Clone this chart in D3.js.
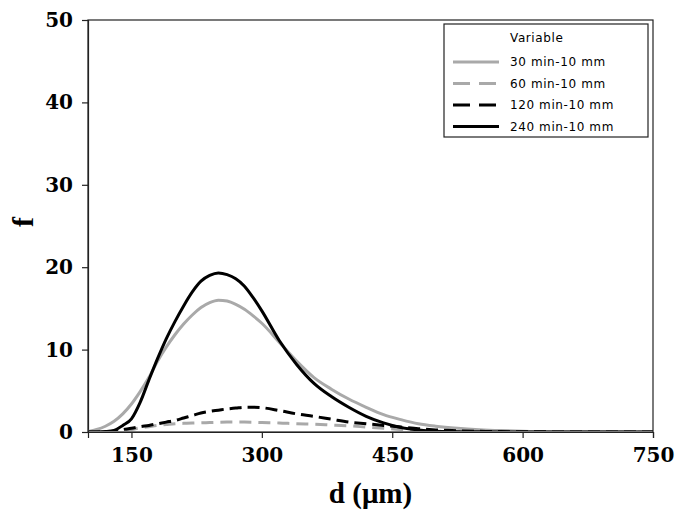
<!DOCTYPE html>
<html>
<head>
<meta charset="utf-8">
<script src="https://cdn.jsdelivr.net/npm/d3@7"></script>
<style>
  body { margin: 0; background: #fff; }
  svg { display: block; }
</style>
</head>
<body>
<div id="chart"></div>
<script>
// particle size grid (µm) shared by all four curves
var sizes = [100,110,120,130,140,150,160,170,180,190,200,210,220,230,240,250,260,270,280,290,300,320,340,360,380,400,420,440,460,480,500,525,550,575,600,650,700,750];

var f30 = [0.05,0.3,0.7,1.3,2.2,3.4,4.9,6.6,8.6,10.3,11.8,13.1,14.2,15.1,15.7,16.0,15.9,15.5,14.9,14.1,13.2,10.9,8.6,6.6,5.2,4.0,3.0,2.1,1.5,1.0,0.7,0.45,0.28,0.17,0.1,0.04,0.02,0];
var f60 = [0,0,0,0,0.1,0.3,0.5,0.65,0.8,0.9,1.0,1.05,1.1,1.12,1.15,1.18,1.2,1.2,1.2,1.18,1.15,1.1,1.0,0.95,0.85,0.75,0.6,0.45,0.3,0.2,0.1,0.07,0.05,0.03,0.02,0,0,0];
var f120 = [0,0,0,0.1,0.3,0.45,0.65,0.8,1.0,1.2,1.4,1.7,2.0,2.3,2.5,2.65,2.8,2.9,3.0,3.0,2.95,2.6,2.2,1.9,1.55,1.2,1.0,0.8,0.6,0.4,0.25,0.15,0.08,0.05,0.03,0.01,0,0];
var f240 = [0,0,0.05,0.2,0.8,1.6,3.6,6.3,8.9,11.3,13.4,15.3,17.0,18.3,19.0,19.3,19.1,18.6,17.7,16.3,14.7,11.1,8.2,5.9,4.3,3.0,1.9,1.1,0.55,0.25,0.1,0.04,0.02,0.01,0,0,0,0];

var seriesNames = ["30 min-10 mm", "60 min-10 mm", "120 min-10 mm", "240 min-10 mm"];
var seriesValues = [f30, f60, f120, f240];
var seriesColors = ["#a9a9a9", "#a9a9a9", "#000000", "#000000"];
var seriesDash = [null, "12,7", "12,6", null];

var xTicks = [150, 300, 450, 600, 750];
var yTicks = [0, 10, 20, 30, 40, 50];

var W = 678, H = 521;
var margin = {left: 88, top: 20, right: 25, bottom: 89};
var innerW = W - margin.left - margin.right;
var innerH = H - margin.top - margin.bottom;

var svg = d3.select("#chart").append("svg")
    .attr("width", W)
    .attr("height", H);

var g = svg.append("g")
    .attr("transform", "translate(" + margin.left + "," + margin.top + ")");

var x = d3.scaleLinear().domain([100, 750]).range([0, innerW]);
var y = d3.scaleLinear().domain([0, 50]).range([innerH, 0]);

g.append("clipPath").attr("id", "clip")
    .append("rect")
    .attr("x", 0).attr("y", -2)
    .attr("width", innerW).attr("height", innerH + 1);

// frame
g.append("rect")
    .attr("x", 0).attr("y", 0)
    .attr("width", innerW).attr("height", innerH)
    .attr("fill", "none")
    .attr("stroke", "#222")
    .attr("stroke-width", 1.2);

// axes
var xAxis = g.append("g")
    .attr("transform", "translate(0," + innerH + ")")
    .call(d3.axisBottom(x).tickValues(xTicks).tickSize(6).tickPadding(10));
var yAxis = g.append("g")
    .call(d3.axisLeft(y).tickValues(yTicks).tickSize(6).tickPadding(9));

[xAxis, yAxis].forEach(function (a) {
    a.select(".domain").attr("stroke", "#222").attr("stroke-width", 1.2);
    a.selectAll(".tick line").attr("stroke", "#222").attr("stroke-width", 1.2);
    a.selectAll(".tick text")
        .attr("fill", "#000")
        .style("font-family", "'DejaVu Serif', serif")
        .style("font-weight", "bold")
        .style("font-size", "20px");
});

// curves
var line = d3.line()
    .x(function (d) { return x(d[0]); })
    .y(function (d) { return y(d[1]); })
    .curve(d3.curveMonotoneX);

var curves = g.append("g").attr("clip-path", "url(#clip)");
seriesValues.forEach(function (vals, i) {
    var pts = sizes.map(function (s, j) { return [s, vals[j]]; });
    curves.append("path")
        .datum(pts)
        .attr("d", line)
        .attr("fill", "none")
        .attr("stroke", seriesColors[i])
        .attr("stroke-width", 3)
        .attr("stroke-dasharray", seriesDash[i]);
});

// axis titles
svg.append("text")
    .attr("x", margin.left + innerW / 2)
    .attr("y", 503)
    .attr("text-anchor", "middle")
    .style("font-family", "'Liberation Serif', serif")
    .style("font-weight", "bold")
    .style("font-size", "29px")
    .text("d (μm)");

svg.append("text")
    .attr("transform", "translate(33,222) rotate(-90)")
    .attr("text-anchor", "middle")
    .style("font-family", "'Liberation Serif', serif")
    .style("font-weight", "bold")
    .style("font-size", "30px")
    .text("f");

// legend
var lg = svg.append("g").attr("transform", "translate(444,24)");
lg.append("rect")
    .attr("width", 204).attr("height", 113)
    .attr("fill", "#fff")
    .attr("stroke", "#222")
    .attr("stroke-width", 1.2);
lg.append("text")
    .attr("x", 66).attr("y", 18)
    .style("font-family", "'DejaVu Sans', sans-serif")
    .style("font-size", "12px")
    .style("letter-spacing", "0.6px")
    .text("Variable");
seriesNames.forEach(function (name, i) {
    var yy = 38 + i * 21.5;
    lg.append("line")
        .attr("x1", 9).attr("x2", 55)
        .attr("y1", yy).attr("y2", yy)
        .attr("stroke", seriesColors[i])
        .attr("stroke-width", 3)
        .attr("stroke-dasharray", seriesDash[i] ? "17,9" : null);
    lg.append("text")
        .attr("x", 66).attr("y", yy + 4)
        .style("font-family", "'DejaVu Sans', sans-serif")
        .style("font-size", "12px")
        .style("letter-spacing", "0.6px")
        .text(name);
});
</script>
</body>
</html>
